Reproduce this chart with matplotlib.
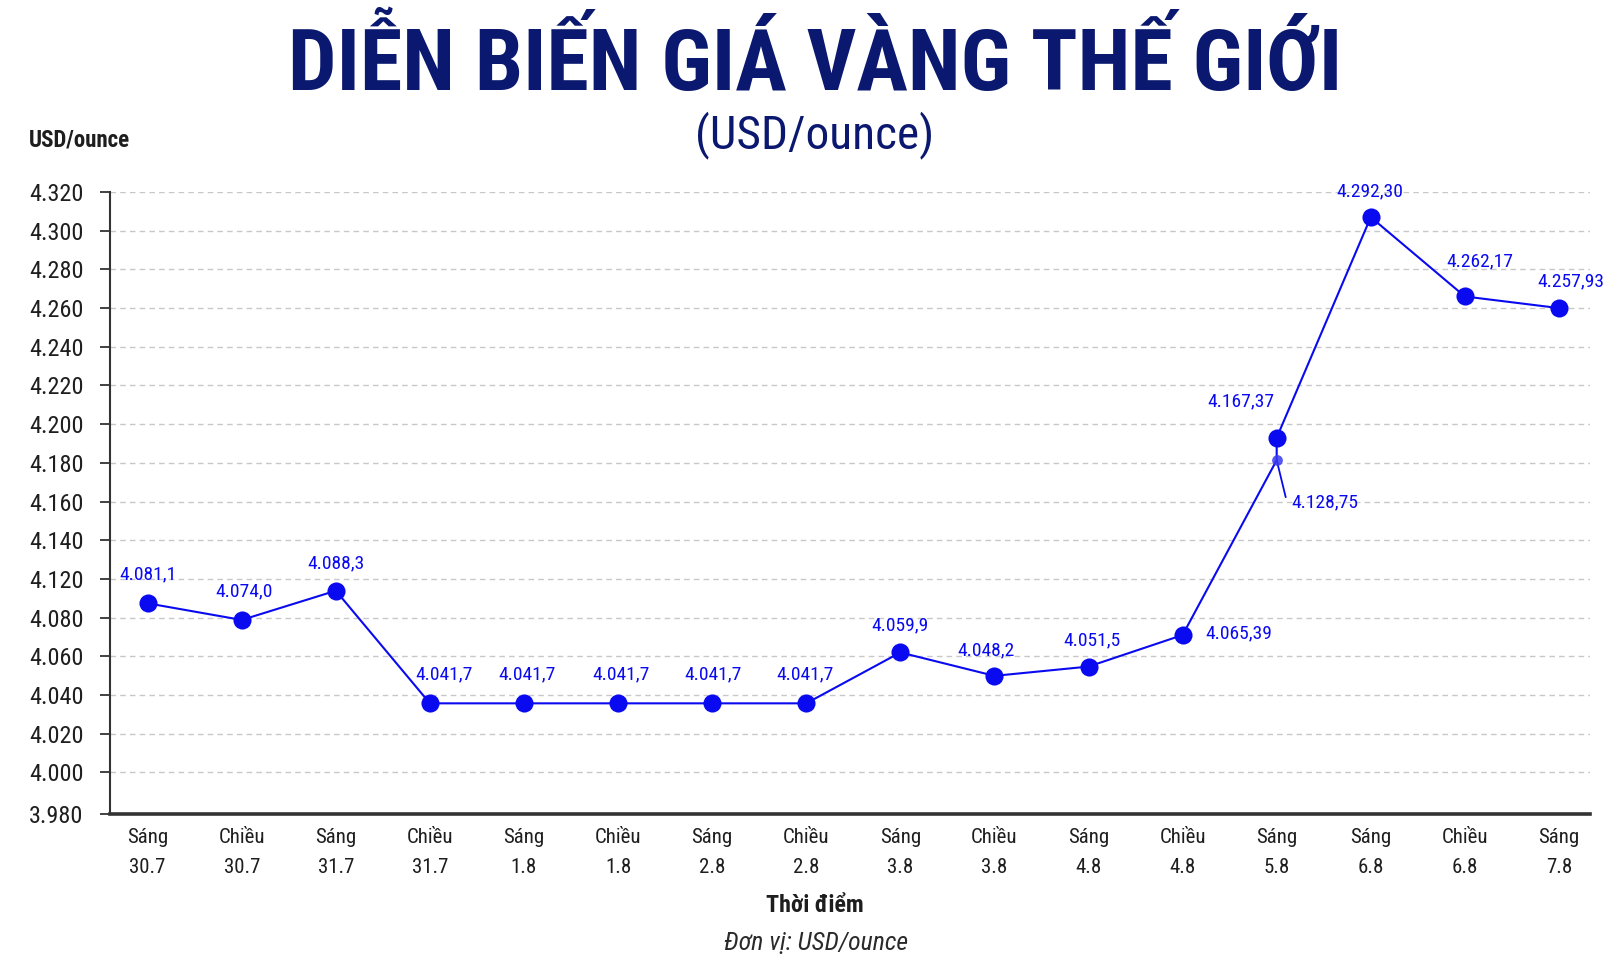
import matplotlib
matplotlib.use('Agg')
import matplotlib.pyplot as plt

# ---------------- data ----------------
categories = ['Sáng\n30.7', 'Chiều\n30.7', 'Sáng\n31.7', 'Chiều\n31.7', 'Sáng\n1.8',
              'Chiều\n1.8', 'Sáng\n2.8', 'Chiều\n2.8', 'Sáng\n3.8', 'Chiều\n3.8',
              'Sáng\n4.8', 'Chiều\n4.8', 'Sáng\n5.8', 'Sáng\n6.8', 'Chiều\n6.8', 'Sáng\n7.8']
# category index of every plotted point (Sáng 5.8 carries two readings)
point_category = [0, 1, 2, 3, 4, 5, 6, 7, 8, 9, 10, 11, 12, 12, 13, 14, 15]
# vertical position of each point as drawn on the chart's axis
point_values = [4.0874, 4.0788, 4.0939, 4.0357, 4.0357, 4.0357, 4.0357, 4.0357,
                4.0620, 4.0499, 4.0547, 4.0710, 4.1614, 4.1730, 4.2870, 4.2460, 4.2400]
point_labels = ['4.081,1', '4.074,0', '4.088,3', '4.041,7', '4.041,7', '4.041,7',
                '4.041,7', '4.041,7', '4.059,9', '4.048,2', '4.051,5', '4.065,39',
                '4.128,75', '4.167,37', '4.292,30', '4.262,17', '4.257,93']
ytick_positions = [3.9785, 4.00, 4.02, 4.04, 4.06, 4.08, 4.10, 4.12, 4.14,
                   4.16, 4.18, 4.20, 4.22, 4.24, 4.26, 4.28, 4.30]
ytick_labels = ['3.980', '4.000', '4.020', '4.040', '4.060', '4.080', '4.120', '4.140',
                '4.160', '4.180', '4.200', '4.220', '4.240', '4.260', '4.280', '4.300', '4.320']

title = 'DIỄN BIẾN GIÁ VÀNG THẾ GIỚI'
subtitle = '(USD/ounce)'
yunit = 'USD/ounce'
xlabel = 'Thời điểm'
note = 'Đơn vị: USD/ounce'

# ---------------- style ----------------
W, H = 1624, 969
COND = ['Roboto Condensed', 'Liberation Sans Narrow', 'Roboto', 'DejaVu Sans']
plt.rcParams['font.family'] = COND
NAVY = '#0b1870'
BLUE = '#0a0af0'
TXT = '#1e1e1e'

fig = plt.figure(figsize=(W / 100, H / 100), dpi=100)
fig.patch.set_facecolor('white')

ax_left, ax_right, ax_top, ax_bottom = 110, 1590, 192, 814
ax = fig.add_axes([ax_left / W, 1 - ax_bottom / H, (ax_right - ax_left) / W,
                   (ax_bottom - ax_top) / H])

# line + markers
ax.plot(point_category, point_values, color=BLUE, lw=1.5, zorder=3)
big = [i for i in range(len(point_values)) if i != 12]
ax.scatter([point_category[i] for i in big], [point_values[i] for i in big],
           s=170, color=BLUE, zorder=4, linewidths=0)
ax.scatter([point_category[12]], [point_values[12]], s=60, color='#3a3af0',
           alpha=0.85, zorder=4, linewidths=0)

# data labels: offsets in pixels (dx, dy up) and alignment
offsets = [(0, 29, 'center'), (2, 29, 'center'), (0, 27, 'center'),
           (14, 29, 'center'), (3, 29, 'center'), (3, 29, 'center'),
           (1, 29, 'center'), (-1, 29, 'center'), (0, 27, 'center'),
           (-8, 26, 'center'), (3, 26, 'center'), (23, 2, 'left'),
           (15, -42, 'left'), (-36, 36, 'center'), (-1, 26, 'center'),
           (15, 35, 'center'), (12, 27, 'center')]
for i, (lab, (dx, dy, ha)) in enumerate(zip(point_labels, offsets)):
    ax.annotate(lab, (point_category[i], point_values[i]),
                xytext=(dx * 0.72, dy * 0.72), textcoords='offset points',
                ha=ha, va='center', fontsize=14, fontweight='normal',
                color=BLUE, zorder=5)
# leader line for the small 5.8 point
ax.annotate('', (point_category[12], point_values[12]),
            xytext=(9 * 0.72, -37 * 0.72), textcoords='offset points',
            arrowprops=dict(arrowstyle='-', color=BLUE, lw=1.3, shrinkA=0, shrinkB=0))

ax.set_xlim(-0.40, 15.33)
ax.set_ylim(3.9785, 4.30)
ax.set_xticks(range(len(categories)))
ax.set_xticklabels(categories, fontsize=15, color=TXT, linespacing=1.75)
ax.set_yticks(ytick_positions)
ax.set_yticklabels(ytick_labels, fontsize=17.5, color=TXT)
ax.tick_params(axis='x', length=0, pad=10)
ax.tick_params(axis='y', length=7, width=1.3, color='#333333', pad=12, direction='out')
ax.grid(axis='y', color='#c8c8c8', linestyle=(0, (4, 3)), lw=1.0)
ax.set_axisbelow(True)
for s in ['top', 'right']:
    ax.spines[s].set_visible(False)
ax.spines['left'].set_color('#333333')
ax.spines['left'].set_linewidth(1.5)
ax.spines['bottom'].set_color('#333333')
ax.spines['bottom'].set_linewidth(2.6)
ax.set_facecolor('white')

# ---------------- texts ----------------
def fy(y):
    return 1 - y / H

t_title = fig.text(815 / W, fy(90), title, ha='center', va='baseline',
                   fontsize=62, fontweight='black', color=NAVY)
t_sub = fig.text(815 / W, fy(148), subtitle, ha='center', va='baseline',
                 fontsize=34, color=NAVY)
t_unit = fig.text(29 / W, fy(147), yunit, ha='left', va='baseline',
                  fontsize=16.5, fontweight='bold', color=TXT)
t_xl = fig.text(815 / W, fy(912), xlabel, ha='center', va='baseline',
                fontsize=17.3, fontweight='bold', color=TXT)
t_note = fig.text(816 / W, fy(950), note, ha='center', va='baseline',
                  fontsize=18.5, style='italic', color='#2a2a2a')

# fit widths to the reference where the available face is wider
fig.canvas.draw()
r = fig.canvas.get_renderer()
for t, target in [(t_title, 1060), (t_sub, 246), (t_unit, 106), (t_xl, 98), (t_note, 192)]:
    w = t.get_window_extent(r).width
    if w > target:
        t.set_fontsize(t.get_fontsize() * target / w)

fig.savefig('out.png', dpi=100, facecolor='white')
